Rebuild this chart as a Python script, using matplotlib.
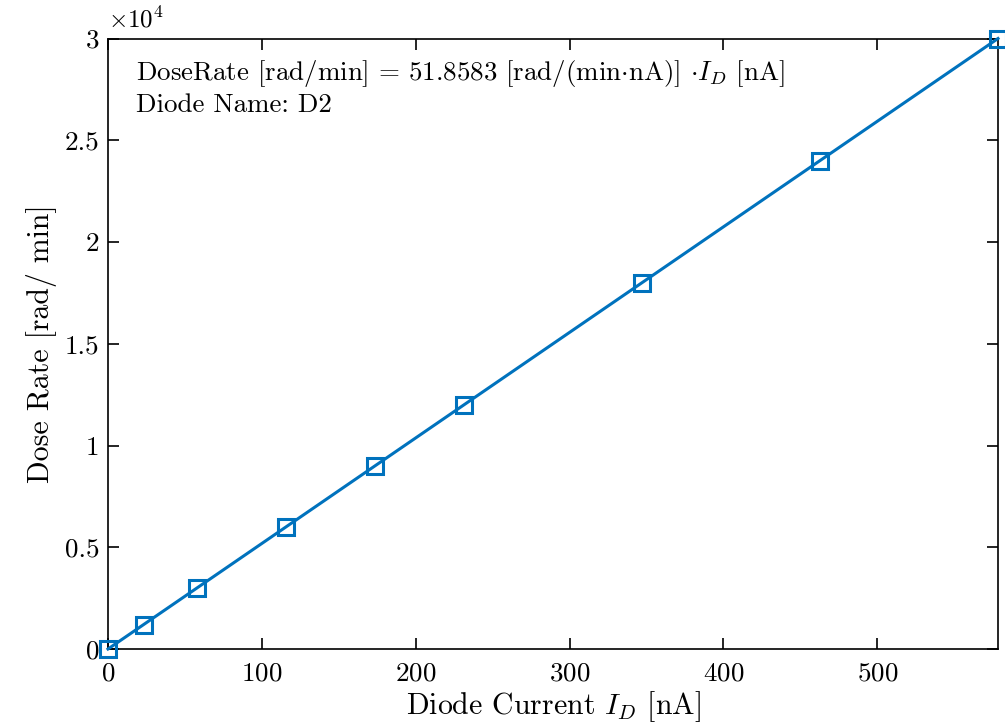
import numpy as np
import matplotlib
matplotlib.use("Agg")
import matplotlib.pyplot as plt
from matplotlib.ticker import FuncFormatter, MultipleLocator

plt.rcParams['font.family'] = 'cmr10'
plt.rcParams['mathtext.fontset'] = 'cm'
plt.rcParams['axes.formatter.use_mathtext'] = True

# Data
slope = 51.8583
dose_rate = [0, 1200, 3000, 6000, 9000, 12000, 18000, 24000, 30000]  # rad/min
diode_current = [0, 23.14, 57.85, 115.70, 173.55, 231.40, 347.10, 462.80, 578.50]  # nA
diode_name = "D2"

color = '#0072BD'

fig = plt.figure(figsize=(10.05, 7.27), dpi=100)
ax = fig.add_axes([108/1005, 78/727, (998-108)/1005, (649-38.5)/727])

ax.plot(diode_current, dose_rate, '-', color=color, lw=2.2, marker='s', ms=12,
        mfc='none', mec=color, mew=2.2, clip_on=False, zorder=3)

ax.set_xlim(0, max(diode_current))
ax.set_ylim(0, 30000)
ax.xaxis.set_major_locator(MultipleLocator(100))
ax.yaxis.set_major_locator(MultipleLocator(5000))
ax.yaxis.set_major_formatter(FuncFormatter(lambda v, p: ('%g' % (v / 1e4))))

ax.tick_params(direction='in', length=8, width=1.2, top=True, right=True,
               labelsize=19.5)
ax.tick_params(axis='x', pad=9)
ax.tick_params(axis='y', pad=6)
for s in ax.spines.values():
    s.set_linewidth(1.2)

ax.text(0.0, 1.01, r'$\times10^{4}$', transform=ax.transAxes, fontsize=18,
        ha='left', va='bottom')

ax.set_xlabel(r'Diode Current $I_D$ [nA]', fontsize=21.5, labelpad=3)
ax.set_ylabel(r'Dose Rate [rad/ min]', fontsize=21.5, labelpad=6)

ax.text(0.031, 0.968,
        r'DoseRate [rad/min] = %.4f [rad/(min$\cdot$nA)] $\cdot I_D$ [nA]' % slope + '\n'
        + 'Diode Name: ' + diode_name,
        transform=ax.transAxes, fontsize=19.4, ha='left', va='top', linespacing=1.25)

fig.savefig('out.png', dpi=100)
